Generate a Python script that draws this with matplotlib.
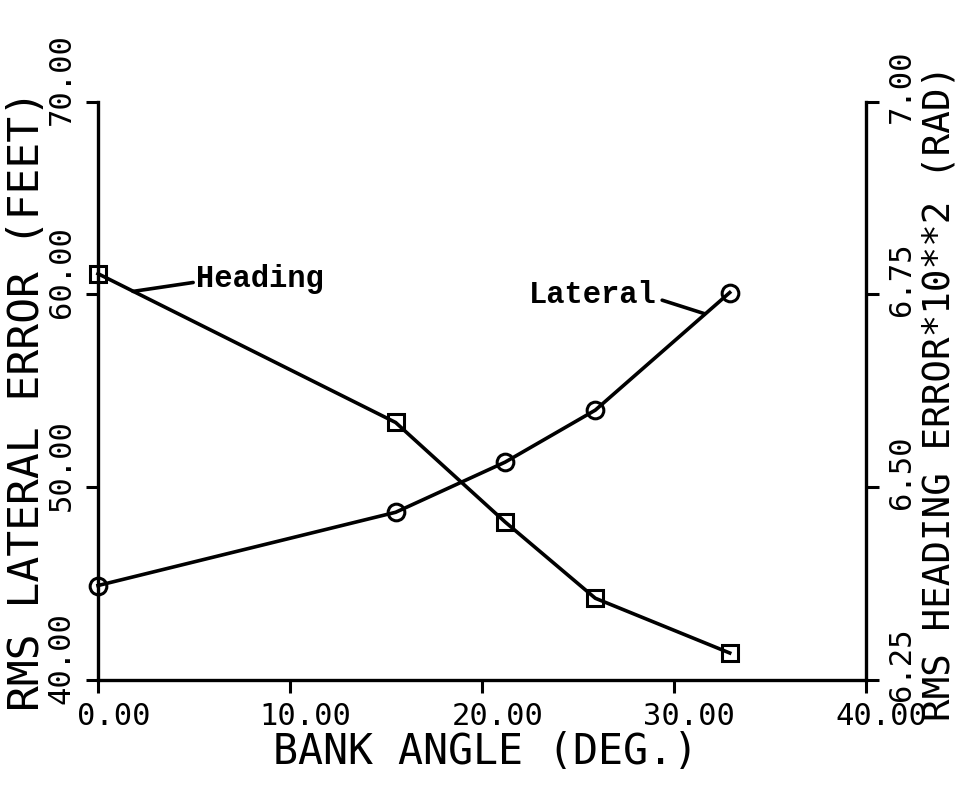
import matplotlib
matplotlib.use("Agg")
import matplotlib.pyplot as plt
import matplotlib.transforms as mtransforms

# bank angle sweep, degrees
bank_angle = [0.0, 15.5, 21.2, 25.9, 32.9]
# RMS lateral error, feet (left axis)
lateral_err = [44.9, 48.7, 51.3, 54.0, 60.1]
# RMS heading error x 10**2, rad (right axis)
heading_err = [6.777, 6.584, 6.455, 6.356, 6.285]

x_ticks = [0, 10, 20, 30, 40]
left_ticks = [40, 50, 60, 70]
right_ticks = [6.25, 6.50, 6.75, 7.00]

LW = 2.6
plot_font = "DejaVu Sans Mono"
note_font = "Liberation Mono"


def shift(fig, dx, dy):
    return mtransforms.ScaledTranslation(dx / 72, dy / 72, fig.dpi_scale_trans)


def main():
    fig = plt.figure(figsize=(9.58, 7.87), dpi=100)
    ax = fig.add_axes([0.1023, 0.136, 0.8017, 0.7347])
    ax2 = ax.twinx()

    ax.plot(bank_angle, lateral_err, color="black", lw=LW, marker="o",
            ms=12, mfc="none", mec="black", mew=2.2, clip_on=False)
    ax2.plot(bank_angle, heading_err, color="black", lw=LW, marker="s",
             ms=11, mfc="none", mec="black", mew=2.2, clip_on=False)

    ax.set_xlim(0, 40)
    ax.set_ylim(40, 70)
    ax2.set_ylim(6.25, 7.00)

    ax.set_xticks(x_ticks)
    ax.set_xticklabels(["%.2f" % v for v in x_ticks], fontsize=22, family=plot_font)
    ax.set_yticks(left_ticks)
    ax.set_yticklabels(["%.2f" % v for v in left_ticks], fontsize=22,
                       family=plot_font, rotation=90, va="center")
    ax2.set_yticks(right_ticks)
    ax2.set_yticklabels(["%.2f" % v for v in right_ticks], fontsize=22,
                        family=plot_font, rotation=90, va="center")

    ax.tick_params(axis="both", direction="out", length=9, width=2.2, pad=7)
    ax2.tick_params(axis="y", direction="out", length=9, width=2.2, pad=6)

    # plotter-style offsets on the tick labels
    for lab in ax.get_xticklabels():
        lab.set_transform(lab.get_transform() + shift(fig, 11, 0))
    for lab in ax.get_yticklabels():
        lab.set_transform(lab.get_transform() + shift(fig, 0, 16))
    for lab in ax2.get_yticklabels():
        lab.set_transform(lab.get_transform() + shift(fig, 0, 11))

    for a in (ax, ax2):
        a.spines["top"].set_visible(False)
        for s in ("left", "right", "bottom"):
            a.spines[s].set_linewidth(2.4)
    ax.spines["right"].set_visible(False)
    ax2.spines["left"].set_visible(False)
    ax2.spines["bottom"].set_visible(False)

    ax.set_xlabel("BANK ANGLE (DEG.)", fontsize=30, family=plot_font,
                  ha="center", va="center")
    ax.xaxis.set_label_coords(0.505, -0.124)
    ax.set_ylabel("RMS LATERAL ERROR (FEET)", fontsize=31, family=plot_font,
                  ha="center", va="center")
    ax.yaxis.set_label_coords(-0.092, 0.484)
    ax2.set_ylabel("RMS HEADING ERROR*10**2 (RAD)", fontsize=27,
                   family=plot_font, ha="center", va="center", rotation=90)
    ax2.yaxis.set_label_coords(1.096, 0.496)

    # curve labels with leader lines
    ax2.annotate("Heading", xy=(1.82, 6.754), xytext=(5.1, 6.770),
                 fontsize=22, family=note_font, weight="bold",
                 ha="left", va="center",
                 arrowprops=dict(arrowstyle="-", lw=LW, color="black",
                                 shrinkA=0, shrinkB=0, relpos=(0, 0.4)))
    ax.annotate("Lateral", xy=(31.6, 59.0), xytext=(29.1, 59.95),
                fontsize=22, family=note_font, weight="bold",
                ha="right", va="center",
                arrowprops=dict(arrowstyle="-", lw=LW, color="black",
                                shrinkA=2, shrinkB=0, relpos=(1, 0.4)))

    fig.savefig("out.png", dpi=100)


if __name__ == "__main__":
    main()
